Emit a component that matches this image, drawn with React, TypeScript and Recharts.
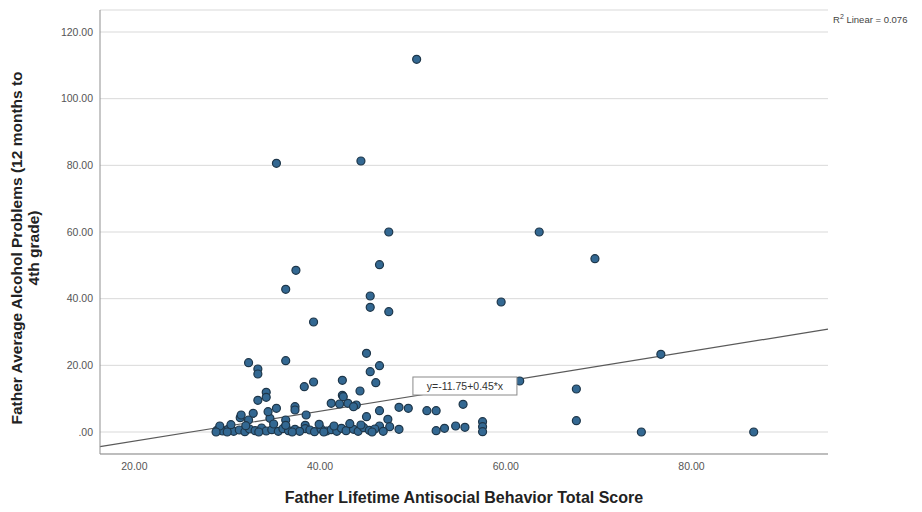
import { ScatterChart, Scatter, XAxis, YAxis, CartesianGrid, ReferenceLine, ReferenceDot } from "recharts";

// Father Lifetime Antisocial Behavior Total Score
const antisocialScore = [
  50.4, 35.3, 44.4, 47.4, 63.6, 69.6, 37.4, 36.3, 46.4, 45.4, 45.4, 47.4, 39.3, 59.5, 76.7, 61.5,
  67.6, 67.6, 74.6, 86.7, 55.4, 57.5, 57.5, 57.5,
  32.3, 33.3, 33.3, 36.3, 45.0, 45.4, 46.4, 46.0, 38.3, 39.3, 42.4, 42.4, 44.3, 34.2, 34.2, 33.3,
  35.3, 37.3, 37.3, 41.2, 42.1, 43.0, 43.9, 46.4, 48.5, 49.5, 51.5, 52.5, 31.4, 32.3, 34.6, 36.3,
  38.5, 45.0, 47.3, 46.4, 48.5, 52.5, 53.4, 54.6, 55.6, 42.5, 43.6, 32.8, 31.5, 34.4, 47.5, 38.4, 38.4,
  28.9, 29.5, 30.1, 30.7, 31.3, 31.9, 32.4, 33.0, 33.7, 34.2, 34.8, 35.5, 36.0, 36.6, 37.3, 37.8,
  38.9, 39.4, 40.1, 40.7, 41.2, 41.8, 42.3, 42.8, 43.6, 44.1, 44.7, 45.3, 45.9, 46.8,
  29.2, 30.4, 32.0, 35.0, 36.3, 39.9, 41.5, 43.2, 44.4, 28.8, 30.0, 33.4, 37.0, 40.4, 45.6,
];

// Father Average Alcohol Problems (12 months to 4th grade)
const alcoholProblems = [
  111.8, 80.6, 81.3, 60.0, 60.0, 52.0, 48.5, 42.8, 50.2, 40.8, 37.4, 36.1, 33.0, 39.0, 23.3, 15.3,
  12.9, 3.4, 0.0, 0.0, 8.3, 3.1, 1.6, 0.1,
  20.8, 18.9, 17.4, 21.4, 23.6, 18.1, 19.9, 14.8, 13.6, 15.0, 15.5, 11.0, 12.3, 11.9, 10.4, 9.5,
  7.1, 7.6, 6.6, 8.6, 8.4, 8.6, 8.1, 6.4, 7.4, 7.1, 6.4, 6.4, 4.3, 3.6, 4.1, 3.6,
  5.1, 4.6, 3.8, 1.8, 0.8, 0.4, 1.1, 1.8, 1.4, 10.6, 7.6, 5.6, 5.1, 6.1, 1.6, 2.0, 1.0,
  0.5, 0.3, 0.8, 0.2, 0.6, 0.1, 0.9, 0.4, 1.2, 0.3, 0.7, 0.2, 1.0, 0.4, 0.8, 0.2,
  0.6, 0.1, 0.9, 0.3, 0.7, 0.2, 1.1, 0.4, 0.8, 0.2, 1.3, 0.5, 0.9, 0.2,
  1.8, 2.2, 1.9, 2.4, 2.0, 2.3, 1.8, 2.5, 2.1, 0.0, 0.0, 0.0, 0.0, 0.0, 0.0,
];

const xTicks = [20, 40, 60, 80];
const yTicks = [0, 20, 40, 60, 80, 100, 120];

// fit line from the reference: y = -11.75 + 0.45*x
const intercept = -11.75;
const slope = 0.45;
const xDomain = [16.3, 94.7];
const yDomain = [-6.6, 126.6];

const points = antisocialScore.map((x, i) => ({ x, y: alcoholProblems[i] }));

const fmt = (v: number) => (v === 0 ? ".00" : v.toFixed(2));

const Dot = (p: any) => (
  <circle cx={p.cx} cy={p.cy} r={4} fill="#336892" stroke="#1e3649" strokeWidth={1.2} />
);

const EquationBox = (p: any) => (
  <g>
    <rect x={p.cx - 52} y={p.cy - 9} width={104} height={18} fill="#fff" stroke="#8a8a8a" strokeWidth={1} />
    <text x={p.cx} y={p.cy + 3.5} textAnchor="middle" fontSize={10.5} fill="#333" fontFamily="Liberation Sans, Arial">
      y=-11.75+0.45*x
    </text>
  </g>
);

const YLabel = () => (
  <text
    transform="translate(26,248) rotate(-90)"
    textAnchor="middle"
    fontSize={15.5}
    fontWeight="bold"
    fill="#222"
    fontFamily="Liberation Sans, Arial"
  >
    <tspan x={0} dy={-4}>Father Average Alcohol Problems (12 months to</tspan>
    <tspan x={0} dy={17}>4th grade)</tspan>
  </text>
);

export default function App() {
  return (
    <div style={{ position: "absolute", left: 0, top: 0, width: 922, height: 512, background: "#fff", fontFamily: "Liberation Sans, Arial" }}>
      <ScatterChart width={922} height={512} margin={{ top: 10, right: 94, bottom: 0, left: 0 }}>
        <CartesianGrid vertical={false} stroke="#d9d9d9" />
        <XAxis
          type="number"
          dataKey="x"
          domain={xDomain}
          ticks={xTicks}
          tickFormatter={fmt}
          allowDataOverflow
          height={58}
          tickLine={false}
          tickSize={0}
          tickMargin={9}
          stroke="#8f8f8f"
          tick={{ fontSize: 10.5, fill: "#555" }}
          label={{ value: "Father Lifetime Antisocial Behavior Total Score", position: "insideBottom", offset: 9, fontSize: 16, fontWeight: "bold", fill: "#222" }}
        />
        <YAxis
          type="number"
          dataKey="y"
          domain={yDomain}
          ticks={yTicks}
          tickFormatter={fmt}
          allowDataOverflow
          width={100}
          tickLine={false}
          tickSize={0}
          tickMargin={7}
          stroke="#8f8f8f"
          tick={{ fontSize: 10.5, fill: "#555" }}
          label={<YLabel />}
        />
        <ReferenceLine
          segment={[
            { x: xDomain[0], y: intercept + slope * xDomain[0] },
            { x: xDomain[1], y: intercept + slope * xDomain[1] },
          ]}
          stroke="#5a5a5a"
          strokeWidth={1.2}
          ifOverflow="visible"
        />
        <Scatter data={points} shape={Dot} isAnimationActive={false} />
        <ReferenceDot x={55.6} y={13.8} r={0} shape={EquationBox} ifOverflow="visible" />
      </ScatterChart>
      <div style={{ position: "absolute", left: 833, top: 13, fontSize: 9.5, color: "#444", whiteSpace: "nowrap" }}>
        R<sup style={{ fontSize: 7 }}>2</sup> Linear = 0.076
      </div>
    </div>
  );
}
